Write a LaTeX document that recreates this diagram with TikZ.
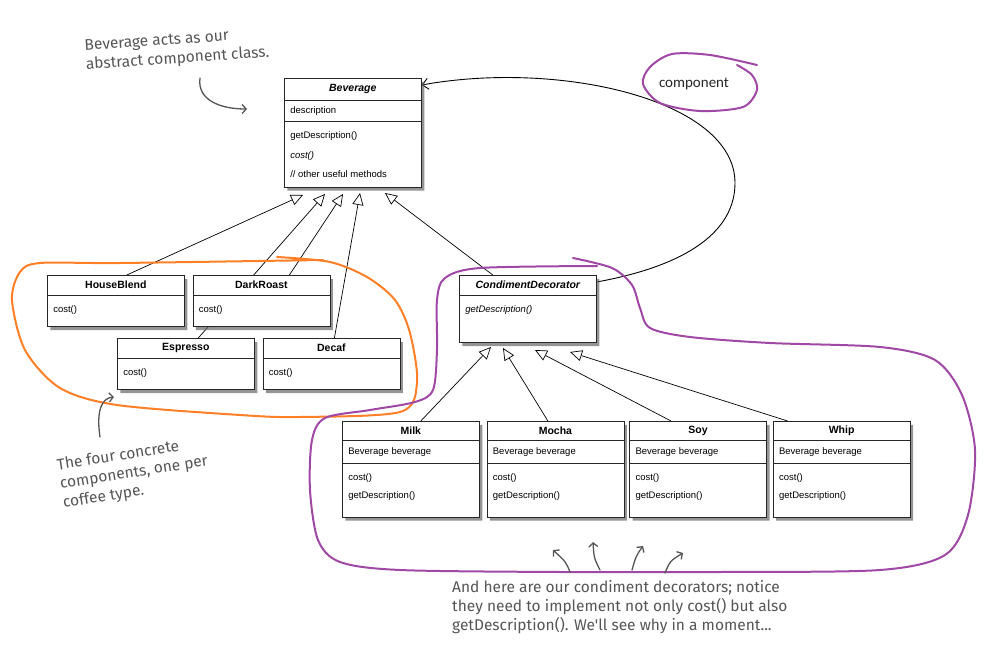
\documentclass[tikz,border=0pt]{standalone}
\usepackage{fontspec}
\newfontfamily\umlfont{Liberation Sans}
\newfontfamily\notefont{Fira Sans}
\newfontfamily\labelfont{Carlito}
\usetikzlibrary{positioning,shapes.multipart,shadows,arrows.meta,backgrounds}
\definecolor{notegray}{HTML}{555555}
\definecolor{ringviolet}{HTML}{A048A5}
\definecolor{ringorange}{HTML}{FF7F27}
% class compartments: name, attributes, operations
\newcommand{\umlname}[2][19pt]{\parbox[c][#1][c]{125pt}{\centering\bfseries\fontsize{10.5}{12}\selectfont #2}}
\newcommand{\umlattr}[2][21pt]{\parbox[c][#1][c]{125pt}{#2}}
\newcommand{\umlops}[3][19pt]{\parbox[c][#2][t]{125pt}{\fontsize{9.5}{#1}\selectfont\rule{0pt}{17pt}#3}}
\tikzset{umlclass/.style={rectangle split, rectangle split parts=2, draw=black!85, line width=0.6pt,
           fill=white, inner xsep=6pt, inner ysep=0pt, anchor=north west,
           font=\umlfont\fontsize{9.5}{12}\selectfont,
           drop shadow={shadow xshift=3pt, shadow yshift=-3.5pt, fill=black!60, opacity=0.7}},
         inherit/.style={line width=0.7pt, -{Triangle[length=12pt, width=11pt, fill=white]}},
         holds/.style={line width=0.9pt, -{Straight Barb[length=6pt, width=11pt]}},
         note/.style={font=\notefont\fontsize{15.5}{19}\selectfont, text=notegray, align=left, inner sep=0pt},
         scrawl/.style={draw=notegray, line width=1.3pt, line cap=round, -{Straight Barb[length=4pt, width=9pt]}},
         ring/.style={line width=2pt, line cap=round, line join=round}
         }
\begin{document}
\begin{tikzpicture}[x=1pt,y=-1pt]% decorator pattern, beverages
        \useasboundingbox (0,0) rectangle (993,663);
        \node[umlclass, rectangle split parts=3] (Beverage) at (284,78)
             {\umlname[21pt]{\itshape Beverage}\nodepart{two}\umlattr{description}
              \nodepart{three}\umlops[19.5pt]{65pt}{getDescription()\\ \textit{cost()}\\ // other useful methods}};
        \node[umlclass] (HouseBlend) at (47,275) {\umlname{HouseBlend}\nodepart{two}\umlops{31pt}{cost()}};
        \node[umlclass, right=8pt of HouseBlend] (DarkRoast) {\umlname{DarkRoast}\nodepart{two}\umlops{31pt}{cost()}};
        \node[umlclass] (Espresso) at (117,338) {\umlname{Espresso}\nodepart{two}\umlops{31pt}{cost()}};
        \node[umlclass, right=8pt of Espresso] (Decaf) {\umlname{Decaf}\nodepart{two}\umlops{31pt}{cost()}};
        \node[umlclass] (CondimentDecorator) at (459,275)
             {\umlname{\itshape CondimentDecorator}\nodepart{two}\umlops{47pt}{\textit{getDescription()}}};
        \node[umlclass, rectangle split parts=3] (Milk) at (342,421)
             {\umlname[18pt]{Milk}\nodepart{two}\umlattr[23pt]{Beverage beverage}
              \nodepart{three}\umlops[18pt]{53pt}{cost()\\ getDescription()}};
        \node[umlclass, rectangle split parts=3, right=7pt of Milk] (Mocha)
             {\umlname[18pt]{Mocha}\nodepart{two}\umlattr[23pt]{Beverage beverage}
              \nodepart{three}\umlops[18pt]{53pt}{cost()\\ getDescription()}};
        \node[umlclass, rectangle split parts=3, right=5pt of Mocha] (Soy)
             {\umlname[18pt]{Soy}\nodepart{two}\umlattr[23pt]{Beverage beverage}
              \nodepart{three}\umlops[18pt]{53pt}{cost()\\ getDescription()}};
        \node[umlclass, rectangle split parts=3, right=6pt of Soy] (Whip)
             {\umlname[18pt]{Whip}\nodepart{two}\umlattr[23pt]{Beverage beverage}
              \nodepart{three}\umlops[18pt]{53pt}{cost()\\ getDescription()}};
        % arrow tips under the superclasses
        \coordinate (b1) at (303,195);
        \coordinate (b2) at (325,194);
        \coordinate (b3) at (343,194);
        \coordinate (b4) at (360,193);
        \coordinate (b5) at (385,193);
        \coordinate (c1) at (491,347);
        \coordinate (c2) at (503,348);
        \coordinate (c3) at (535,350);
        \coordinate (c4) at (570,352);
        \begin{scope}[on background layer]
        \draw[inherit] ([xshift=11pt]HouseBlend.north) -- (b1);
        \draw[inherit] ([xshift=12.5pt]Espresso.north) -- (b2);
        \draw[inherit] ([xshift=28pt]DarkRoast.north) -- (b3);
        \draw[inherit] ([xshift=3pt]Decaf.north) -- (b4);
        \draw[inherit] ([xshift=-35pt]CondimentDecorator.north) -- (b5);
        \draw[inherit] ([xshift=10pt]Milk.north) -- (c1);
        \draw[inherit] ([xshift=-7.5pt]Mocha.north) -- (c2);
        \draw[inherit] ([xshift=-27pt]Soy.north) -- (c3);
        \draw[inherit] ([xshift=-54pt]Whip.north) -- (c4);
        \draw[holds] ([yshift=-7pt]CondimentDecorator.north east) .. controls (690,265) and (735,230) .. (735,183)
              .. controls (735,100) and (560,60) .. ([yshift=-7pt]Beverage.north east);
        \end{scope}
        \node[font=\labelfont\fontsize{15}{18}\selectfont, text=black!85] (component) at (694,84) {component};
        % hand-drawn rings
        \draw[ring, ringviolet] plot[smooth] coordinates {(737,65) (752,75) (757,90) (743,107) (700,111)
              (660,103) (643,84) (650,67) (672,54) (710,55) (757,65)};
        \draw[ring, ringorange] plot[smooth] coordinates {(277,257) (330,262) (367,277) (395,300) (410,333)
              (417,383) (400,412) (300,417) (240,415) (117,405) (60,388) (25,350) (12,300) (20,272)
              (40,263) (120,263) (323,260)};
        \draw[ring, ringviolet] plot[smooth] coordinates {(573,258) (612,268) (632,285) (640,308) (650,328)
              (690,337) (770,343) (880,347) (935,360) (962,395) (975,450) (968,515) (945,555) (880,570)
              (720,572) (560,572) (400,570) (340,562) (318,540) (310,490) (312,440) (325,418) (370,410)
              (415,402) (433,390) (437,350) (437,300) (445,278) (480,268) (597,266)};
        % notes
        \node[note, rotate=4] (absnote) at (177,50) {Beverage acts as our\\abstract component class.};
        \node[note, rotate=9] (concnote) at (134,473) {The four concrete\\components, one per\\coffee type.};
        \node[note, anchor=north west] (decnote) at (452,580) {And here are our condiment decorators; notice\\
              they need to implement not only cost() but also\\getDescription(). We'll see why in a moment...};
        \draw[scrawl] (200,78) .. controls (197,100) and (220,109) .. (247,109);
        \draw[scrawl] (100,437) .. controls (96,410) and (102,398) .. (114,397);
        \draw[scrawl] (570,572) .. controls (566,562) .. (553,550);
        \draw[scrawl] (600,570) .. controls (594,558) .. (593,542);
        \draw[scrawl] (632,570) .. controls (636,556) .. (643,546);
        \draw[scrawl] (665,573) .. controls (670,561) .. (683,553);
     \end{tikzpicture}
\end{document}
